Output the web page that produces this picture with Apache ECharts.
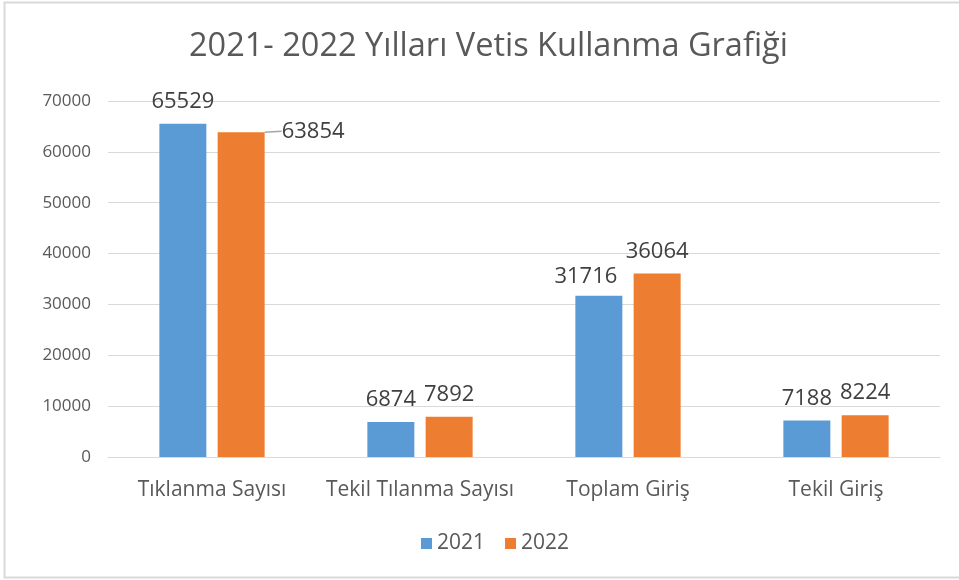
<!DOCTYPE html>
<html>
<head>
<meta charset="utf-8">
<script src="https://cdn.jsdelivr.net/npm/echarts@6/dist/echarts.min.js"></script>
<style>
  html, body { margin: 0; padding: 0; background: #fff; }
  #chart { width: 959px; height: 580px; }
</style>
</head>
<body>
<div id="chart"></div>
<script>
var categories = ['Tıklanma Sayısı', 'Tekil Tılanma Sayısı', 'Toplam Giriş', 'Tekil Giriş'];
var values2021 = [65529, 6874, 31716, 7188];
var values2022 = [63854, 7892, 36064, 8224];
var yTicks = [0, 10000, 20000, 30000, 40000, 50000, 60000, 70000];

var font = 'Open Sans';
var myChart = echarts.init(document.getElementById('chart'));

var labelStyle = {
    show: true,
    position: 'top',
    distance: 11,
    color: '#404040',
    fontSize: 22,
    fontFamily: font
};

// only the first 2022 label is pulled aside with a leader line
var data2022 = values2022.map(function (v, i) {
    return i === 0 ? { value: v, labelLine: { show: true } } : v;
});

option = {
    backgroundColor: '#fff',
    title: {
        text: '2021- 2022 Yılları Vetis Kullanma Grafiği',
        left: 184,
        top: 25,
        textStyle: { color: '#595959', fontSize: 32.5, fontWeight: 'normal', fontFamily: font }
    },
    graphic: [{
        type: 'rect',
        shape: { x: 4.5, y: 2.5, width: 960, height: 575 },
        style: { fill: 'none', stroke: '#d9d9d9', lineWidth: 2 },
        silent: true
    }],
    legend: {
        data: ['2021', '2022'],
        left: 416,
        top: 528,
        itemWidth: 11,
        itemHeight: 11,
        itemGap: 20,
        icon: 'rect',
        textStyle: { color: '#595959', fontSize: 21, fontFamily: font }
    },
    grid: { left: 108, right: 19, top: 101, bottom: 123, containLabel: false },
    xAxis: {
        type: 'category',
        data: categories,
        axisLine: { show: true, lineStyle: { color: '#d9d9d9', width: 1 } },
        axisTick: { show: false },
        axisLabel: { color: '#595959', fontSize: 21, fontFamily: font, margin: 23, interval: 0 }
    },
    yAxis: {
        type: 'value',
        min: yTicks[0],
        max: yTicks[yTicks.length - 1],
        interval: 10000,
        axisLine: { show: false },
        axisTick: { show: false },
        splitLine: { lineStyle: { color: '#d9d9d9', width: 1 } },
        axisLabel: {
            color: '#595959', fontSize: 17, fontFamily: font, margin: 17,
            formatter: function (v) { return String(v); }
        }
    },
    series: [{
        name: '2021',
        type: 'bar',
        data: values2021,
        barWidth: 47,
        barGap: '24%',
        itemStyle: { color: '#5b9bd5' },
        label: labelStyle,
        labelLayout: function (params) {
            if (params.dataIndex === 2) {
                return { dx: -13, dy: 3 };
            }
            return {};
        }
    }, {
        name: '2022',
        type: 'bar',
        data: data2022,
        barWidth: 47,
        barGap: '24%',
        itemStyle: { color: '#ed7d31' },
        label: labelStyle,
        labelLine: { show: false, lineStyle: { color: '#a6a6a6', width: 1.5 } },
        labelLayout: function (params) {
            if (params.dataIndex === 0) {
                return { dx: 72, dy: 21 };
            }
            return {};
        }
    }]
};

myChart.setOption(option);
</script>
</body>
</html>
